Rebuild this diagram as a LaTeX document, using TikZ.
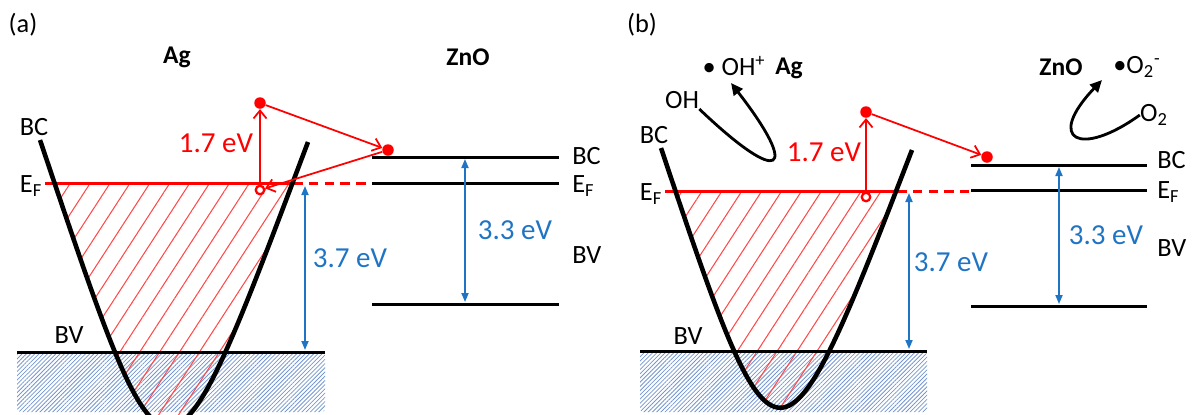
\documentclass[tikz,border=0pt]{standalone}
\usepackage{fontspec}
\setmainfont{Carlito}
\usetikzlibrary{arrows.meta, patterns.meta, positioning}
\definecolor{exred}{HTML}{FF0000}
\definecolor{gapblue}{HTML}{1F74C4}
\definecolor{hatchred}{HTML}{FF4A4A}
\definecolor{hatchblue}{HTML}{7395D0}
\tikzset{
  lvl/.style={line width=1.7pt, draw=black},
  fermi/.style={line width=1.7pt, draw=exred},
  fermidash/.style={fermi, dash pattern=on 5.5pt off 3.5pt},
  band/.style={line width=2.6pt, draw=black},
  gap/.style={{Triangle[length=1.8mm,width=1.4mm]}-{Triangle[length=1.8mm,width=1.4mm]},
              line width=1pt, draw=gapblue},
  exc/.style={-{Straight Barb[length=1.6mm,width=2.6mm]}, line width=1pt, draw=exred},
  react/.style={-{Triangle[length=2.4mm,width=2.2mm]}, line width=1.6pt, draw=black},
  edot/.style={circle, fill=exred, inner sep=0pt, minimum size=0.23cm},
  hole/.style={circle, draw=exred, fill=white, line width=1.3pt, inner sep=0pt,
               minimum size=0.17cm},
  lbl/.style={font=\fontsize{15}{17}\selectfont, inner sep=0pt},
  hdr/.style={font=\fontsize{14.5}{17}\selectfont\bfseries, inner sep=0pt},
  evred/.style={font=\fontsize{16.5}{19}\selectfont, text=exred, inner sep=0pt},
  evblue/.style={font=\fontsize{16.5}{19}\selectfont, text=gapblue, inner sep=0pt},
  redhatch/.style={pattern={Lines[angle=57,distance=9.5pt,line width=0.6pt]},
                   pattern color=hatchred},
  bluehatch/.style={pattern={Lines[angle=45,distance=1.7pt,line width=0.45pt]},
                    pattern color=hatchblue},
}

\begin{document}
\begin{tikzpicture}[x=0.02cm, y=-0.02cm]
\useasboundingbox (0,0) rectangle (1196,414);
\clip (0,0) rectangle (1196,414);

% ================= (a) =================
\node[lbl] (taga) at (23,25) {(a)};
\node[hdr] (aga) at (177,57) {Ag};
\node[hdr] (znoa) at (468,57) {ZnO};

% filled states of Ag
\path[bluehatch, rounded corners=2pt] (17,352) rectangle (325,412);
\begin{scope}
  \clip (40,140) .. controls (169,522) and (164.5,522) .. (308,142) -- cycle;
  \path[redhatch] (0,183) rectangle (340,420);
\end{scope}

% levels
\coordinate (efa1) at (45,183);
\coordinate (efa2) at (293,183);
\coordinate (efa3) at (369,183);
\draw[fermi] (efa1) -- (efa2);
\draw[fermidash] (efa2) -- (efa3);
\coordinate (bva1) at (17,352);
\coordinate (bva2) at (325,352);
\draw[lvl] (bva1) -- (bva2);
\draw[band] (40,140) .. controls (169,522) and (164.5,522) .. (308,142);

\coordinate (zbca1) at (372,157); \coordinate (zbca2) at (559,157);
\coordinate (zefa1) at (372,183); \coordinate (zefa2) at (559,183);
\coordinate (zbva1) at (372,304); \coordinate (zbva2) at (559,304);
\draw[lvl] (zbca1) -- (zbca2);
\draw[lvl] (zefa1) -- (zefa2);
\draw[lvl] (zbva1) -- (zbva2);

% labels
\node[lbl] (bcla) at (34,127) {BC};
\node[lbl] (efla) at (31,186) {E\textsubscript{F}};
\node[lbl] (bvla) at (69,335) {BV};
\node[lbl, anchor=west] (zbcla) at (572,156) {BC};
\node[lbl, anchor=west] (zefla) at (572,186) {E\textsubscript{F}};
\node[lbl, anchor=west] (zbvla) at (572,255) {BV};

% gaps
\coordinate (ga1) at (305,186); \coordinate (ga2) at (305,350);
\draw[gap] (ga1) -- (ga2);
\node[evblue] (gla) at (350,258) {3.7 eV};
\coordinate (gz1) at (465,159); \coordinate (gz2) at (465,302);
\draw[gap] (gz1) -- (gz2);
\node[evblue] (glz) at (515,230) {3.3 eV};

% electron transfer
\node[edot] (hota) at (260,103) {};
\node[edot] (ezna) at (388,150) {};
\node[hole] (hola) at (260,190) {};
\draw[exc] (hola) -- (hota);
\draw[exc] (hota) -- (ezna);
\draw[exc] (ezna) -- (hola);
\node[evred] (exla) at (216,143) {1.7 eV};

% ================= (b) =================
\node[lbl] (tagb) at (642,25) {(b)};
\node[hdr] (agb) at (789,68) {Ag};
\node[hdr] (znob) at (1061,67) {ZnO};

\path[bluehatch, rounded corners=2pt] (640,351) rectangle (927,412);
\begin{scope}
  \clip (661,148) .. controls (777,494) and (779,494) .. (912,150) -- cycle;
  \path[redhatch] (620,191) rectangle (940,420);
\end{scope}

\coordinate (efb1) at (665,191);
\coordinate (efb2) at (897,191);
\coordinate (efb3) at (969,191);
\draw[fermi] (efb1) -- (efb2);
\draw[fermidash] (efb2) -- (efb3);
\coordinate (bvb1) at (640,351);
\coordinate (bvb2) at (927,351);
\draw[lvl] (bvb1) -- (bvb2);
\draw[band] (661,148) .. controls (777,494) and (779,494) .. (912,150);

\coordinate (zbcb1) at (971,165); \coordinate (zbcb2) at (1147,165);
\coordinate (zefb1) at (971,190); \coordinate (zefb2) at (1147,190);
\coordinate (zbvb1) at (971,306); \coordinate (zbvb2) at (1147,306);
\draw[lvl] (zbcb1) -- (zbcb2);
\draw[lvl] (zefb1) -- (zefb2);
\draw[lvl] (zbvb1) -- (zbvb2);

\node[lbl] (bclb) at (654,135) {BC};
\node[lbl] (eflb) at (651,194) {E\textsubscript{F}};
\node[lbl] (bvlb) at (688,336) {BV};
\node[lbl, anchor=west] (zbclb) at (1157,160) {BC};
\node[lbl, anchor=west] (zeflb) at (1157,192) {E\textsubscript{F}};
\node[lbl, anchor=west] (zbvlb) at (1157,248) {BV};

\coordinate (gb1) at (909,193); \coordinate (gb2) at (909,349);
\draw[gap] (gb1) -- (gb2);
\node[evblue] (glb) at (951,262) {3.7 eV};
\coordinate (gy1) at (1059,167); \coordinate (gy2) at (1059,304);
\draw[gap] (gy1) -- (gy2);
\node[evblue] (gly) at (1106,235) {3.3 eV};

\node[edot] (hotb) at (866,112) {};
\node[edot] (eznb) at (987,157) {};
\node[hole] (holb) at (866,197) {};
\draw[exc] (holb) -- (hotb);
\draw[exc] (hotb) -- (eznb);
\node[evred] (exlb) at (824,152) {1.7 eV};

% surface reactions
\node[lbl] (oh) at (682,100) {OH};
\node[lbl] (ohrad) at (734,66) {\textbullet\ OH\textsuperscript{+}};
\coordinate (ohtip) at (731,83);
\draw[react] (oh.south east) .. controls (782,188) and (800,172) .. (ohtip);
\node[lbl] (otwo) at (1154,115) {O\textsubscript{2}};
\node[lbl] (otworad) at (1137,67) {\textbullet O\textsubscript{2}\textsuperscript{-}};
\coordinate (otip) at (1102,80);
\draw[react] (otwo.west) .. controls (1080,158) and (1045,140) .. (otip);

\end{tikzpicture}
\end{document}
